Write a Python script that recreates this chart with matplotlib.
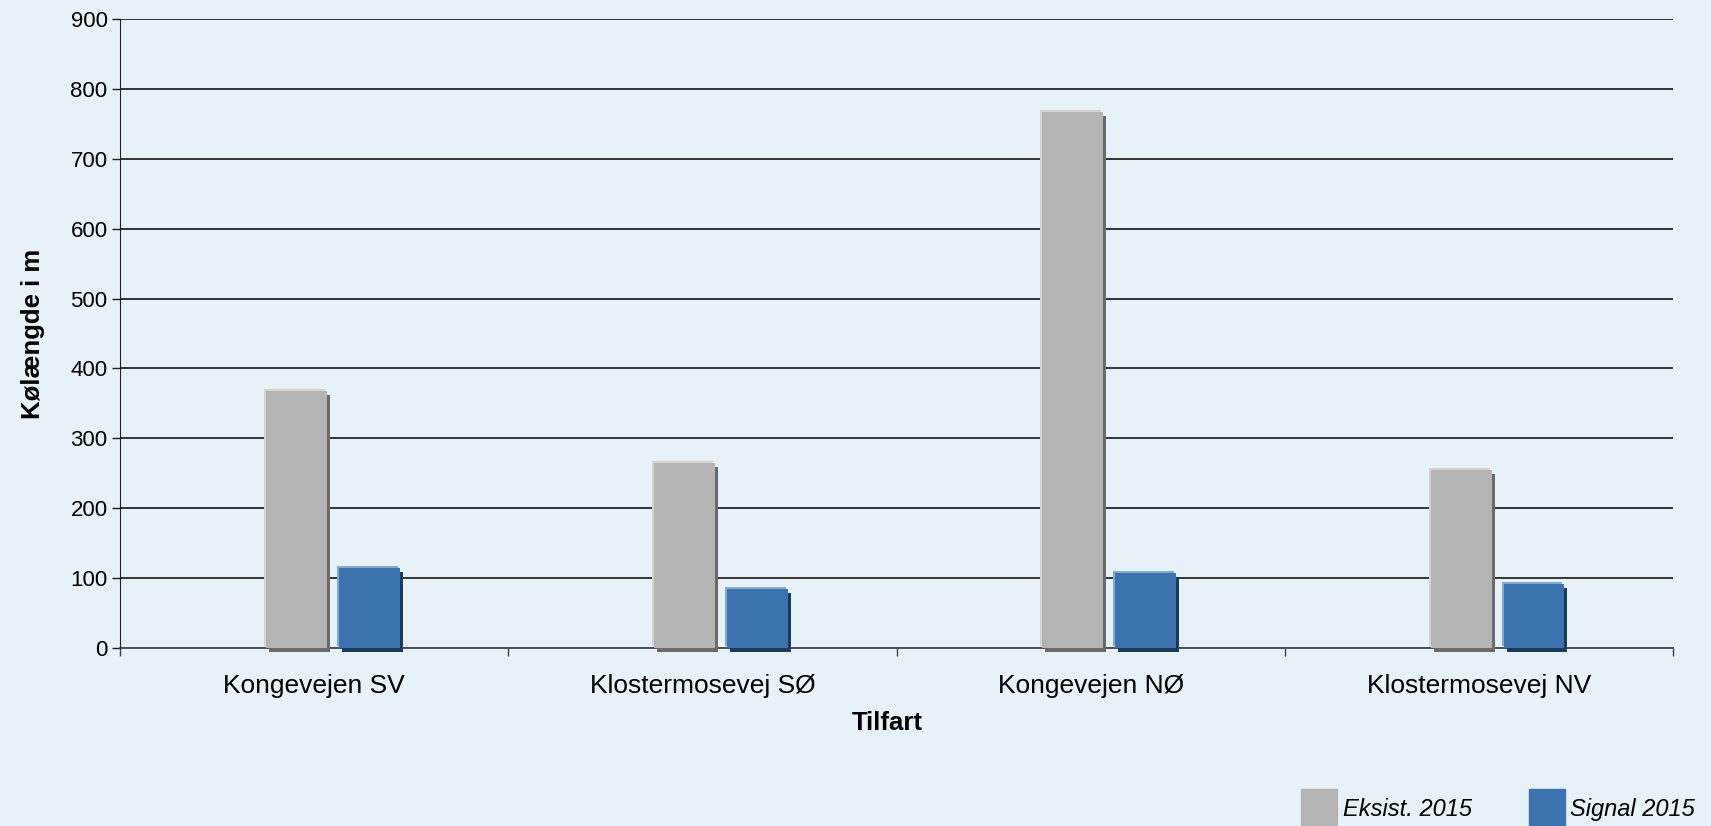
import matplotlib
matplotlib.use('Agg')
import matplotlib.pyplot as plt
from matplotlib.transforms import offset_copy
from matplotlib.patches import Rectangle
import numpy as np

plt.rcParams['font.family'] = ['Liberation Sans', 'DejaVu Sans']

# data
kategorier = ['Kongevejen SV', 'Klostermosevej SØ', 'Kongevejen NØ', 'Klostermosevej NV']
eksist_2015 = [368, 265, 767, 255]
signal_2015 = [115, 85, 108, 92]
serier = ['Eksist. 2015', 'Signal 2015']

bg = '#e7f1f8'
# (lys kant, forside, skygge)
farver_graa = ('#d3d3d3', '#b4b4b4', '#6b6b6b')
farver_blaa = ('#85a9cf', '#3a73ad', '#1d3a5a')

fig = plt.figure(figsize=(17.11, 8.26), dpi=100, facecolor=bg)
ax = fig.add_axes([120 / 1711, 1 - 648 / 826, 1553 / 1711, (648 - 19) / 826])
ax.set_facecolor(bg)

x = np.arange(len(kategorier))
w = 0.157


def bar3d(xpos, vals, farver):
    lys, front, skygge = farver
    t_sk = offset_copy(ax.transData, fig=fig, x=3, y=-4, units='dots')
    t_lys = offset_copy(ax.transData, fig=fig, x=-2, y=2, units='dots')
    ax.bar(xpos, vals, w, color=skygge, transform=t_sk, zorder=3, clip_on=False)
    ax.bar(xpos, vals, w, color=lys, transform=t_lys, zorder=4)
    ax.bar(xpos, vals, w, color=front, zorder=5)


bar3d(x - 0.0455, eksist_2015, farver_graa)
bar3d(x + 0.142, signal_2015, farver_blaa)

ax.set_xlim(-0.5, len(kategorier) - 0.5)
ax.set_ylim(0, 900)
ax.set_yticks(np.arange(0, 901, 100))
ax.yaxis.grid(True, color='#333333', linewidth=1.4)
ax.set_axisbelow(True)

ax.set_xticks(x)
ax.set_xticklabels(kategorier, fontsize=19)
ax.set_xticks(np.arange(-0.5, len(kategorier), 1), minor=True)
ax.tick_params(axis='x', which='major', length=0, pad=19)
ax.tick_params(axis='x', which='minor', length=6, width=1, color='#404040')
ax.tick_params(axis='y', length=6, width=1, labelsize=16, pad=3, color='#202020')

for s in ['top', 'right']:
    ax.spines[s].set_visible(False)
ax.spines['left'].set_color('#202020')
ax.spines['bottom'].set_color('#505050')
ax.spines['bottom'].set_linewidth(1.4)
ax.spines['bottom'].set_zorder(2)

ax.set_ylabel('Kølængde i m', fontsize=18.5, fontweight='bold', labelpad=18)
ax.set_xlabel('Tilfart', fontsize=18.5, fontweight='bold')
ax.xaxis.set_label_coords(0.494, -0.1)

# forklaring nederst til højre
W, H = 1711, 826
for (x0, tx), navn, farve in zip([(1301, 1343), (1529, 1570)], serier,
                                  [farver_graa[1], farver_blaa[1]]):
    fig.patches.append(Rectangle((x0 / W, 1 - 825 / H), 36 / W, 36 / H,
                                 transform=fig.transFigure, color=farve))
    fig.text(tx / W, 1 - 816 / H, navn, fontsize=17, style='italic',
             va='baseline', ha='left')

fig.savefig('out.png', dpi=100, facecolor=bg)
